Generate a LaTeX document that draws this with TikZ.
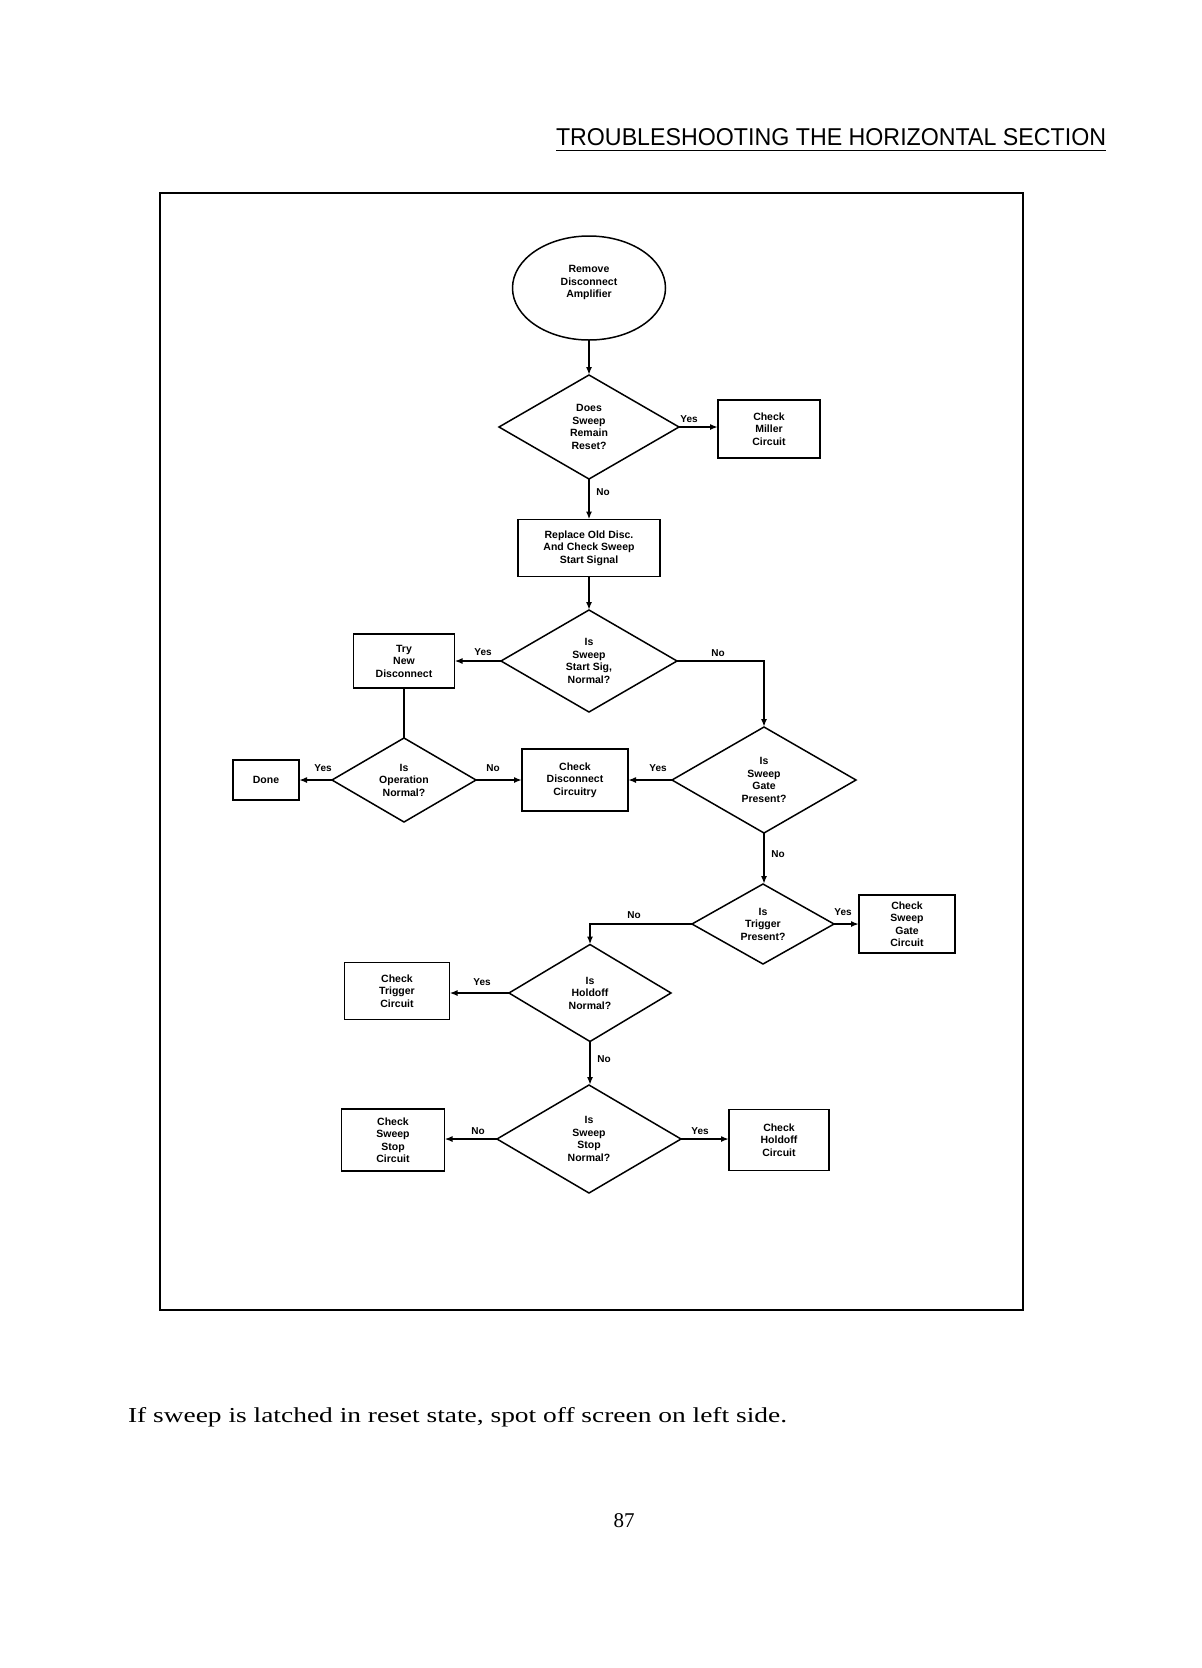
\documentclass[tikz,border=0pt]{standalone}
\usepackage{fontspec}
\setmainfont{Liberation Serif}
\setsansfont{Liberation Sans}
\usetikzlibrary{shapes.geometric,arrows.meta,calc}
\begin{document}
\begin{tikzpicture}[x=1pt,y=-1pt,
  every node/.style={inner sep=0pt, outer sep=0pt},
  txt/.style={font=\sffamily\bfseries\fontsize{10.5}{12.5}\selectfont, align=center},
  box/.style={txt, draw, line width=1.8pt},
  dia/.style={txt, draw, diamond, shape aspect=1.7, line width=1.5pt},
  lbl/.style={font=\sffamily\bfseries\fontsize{10}{12}\selectfont},
  arr/.style={line width=1.8pt, -{Latex[length=8pt,width=6pt]}},
  ln/.style={line width=1.8pt}
]
\fill[white] (0,0) rectangle (1202,1668);
\useasboundingbox (0,0) rectangle (1202,1668);

% header and frame
\node[anchor=base west] (hdr) at (556,145) {\resizebox{550pt}{17pt}{\sffamily TROUBLESHOOTING THE HORIZONTAL SECTION}};
\draw[line width=1.2pt] (556,150.5) -- (1106,150.5);
\draw[line width=2.2pt] (160,193) rectangle (1023,1310);

% nodes
\node[txt, draw, ellipse, line width=1.5pt, minimum width=153, minimum height=104] (start) at (589,288) {Remove\\Disconnect\\Amplifier\\\mbox{}};
\node[dia, minimum width=180, minimum height=104] (d1) at (589,427) {Does\\Sweep\\Remain\\Reset?};
\node[box, minimum width=102, minimum height=58] (miller) at (769,429) {Check\\Miller\\Circuit};
\node[box, minimum width=142, minimum height=57] (replace) at (589,548) {Replace Old Disc.\\And Check Sweep\\Start Signal};
\node[dia, minimum width=176, minimum height=102] (d2) at (589,661) {Is\\Sweep\\Start Sig,\\Normal?};
\node[box, minimum width=101, minimum height=54] (trynew) at (404,661) {Try\\New\\Disconnect};
\node[dia, minimum width=144, minimum height=84] (d3) at (404,780) {Is\\Operation\\Normal?};
\node[box, minimum width=66, minimum height=40] (done) at (266,780) {Done};
\node[box, minimum width=106, minimum height=62] (chkdisc) at (575,780) {Check\\Disconnect\\Circuitry};
\node[dia, minimum width=184, minimum height=106] (d4) at (764,780) {Is\\Sweep\\Gate\\Present?};
\node[dia, minimum width=142, minimum height=80] (d5) at (763,924) {Is\\Trigger\\Present?};
\node[box, minimum width=96, minimum height=58] (sgate) at (907,924) {Check\\Sweep\\Gate\\Circuit};
\node[dia, minimum width=162, minimum height=97] (d6) at (590,993) {Is\\Holdoff\\Normal?};
\node[box, minimum width=105, minimum height=57] (chktrig) at (397,991) {Check\\Trigger\\Circuit};
\node[dia, minimum width=184, minimum height=108] (d7) at (589,1139) {Is\\Sweep\\Stop\\Normal?};
\node[box, minimum width=103, minimum height=62] (sstop) at (393,1140) {Check\\Sweep\\Stop\\Circuit};
\node[box, minimum width=100, minimum height=61] (holdoff) at (779,1140) {Check\\Holdoff\\Circuit};

% connectors
\draw[arr] (start.south) -- (d1.north);
\draw[arr] (d1.east) -- (d1.east -| miller.west);
\draw[arr] (d1.south) -- (replace.north);
\draw[arr] (replace.south) -- (d2.north);
\draw[arr] (d2.west) -- (trynew.east);
\draw[arr] (d2.east) -| (d4.north);
\draw[ln] (trynew.south) -- (d3.north);
\draw[arr] (d3.west) -- (done.east);
\draw[arr] (d3.east) -- (chkdisc.west);
\draw[arr] (d4.west) -- (chkdisc.east);
\draw[arr] (d4.south) -- (d4.south |- d5.north);
\draw[arr] (d5.east) -- (d5.east -| sgate.west);
\draw[arr] (d5.west) -| (d6.north);
\draw[arr] (d6.west) -- (d6.west -| chktrig.east);
\draw[arr] (d6.south) -- (d6.south |- d7.north);
\draw[arr] (d7.west) -- (d7.west -| sstop.east);
\draw[arr] (d7.east) -- (d7.east -| holdoff.west);

% labels
\node[lbl] (l1) at (689,419) {Yes};
\node[lbl] (l2) at (603,492) {No};
\node[lbl] (l3) at (483,652) {Yes};
\node[lbl] (l4) at (718,653) {No};
\node[lbl] (l5) at (323,768) {Yes};
\node[lbl] (l6) at (493,768) {No};
\node[lbl] (l7) at (658,768) {Yes};
\node[lbl] (l8) at (778,854) {No};
\node[lbl] (l9) at (843,912) {Yes};
\node[lbl] (l10) at (634,915) {No};
\node[lbl] (l11) at (482,982) {Yes};
\node[lbl] (l12) at (604,1059) {No};
\node[lbl] (l13) at (478,1131) {No};
\node[lbl] (l14) at (700,1131) {Yes};

% footer
\node[anchor=base west] (foot) at (128,1422) {\resizebox{659pt}{15pt}{\rmfamily If sweep is latched in reset state, spot off screen on left side.}};
\node (pg) at (624,1521) {\fontsize{21}{21}\selectfont 87};
\end{tikzpicture}
\end{document}
